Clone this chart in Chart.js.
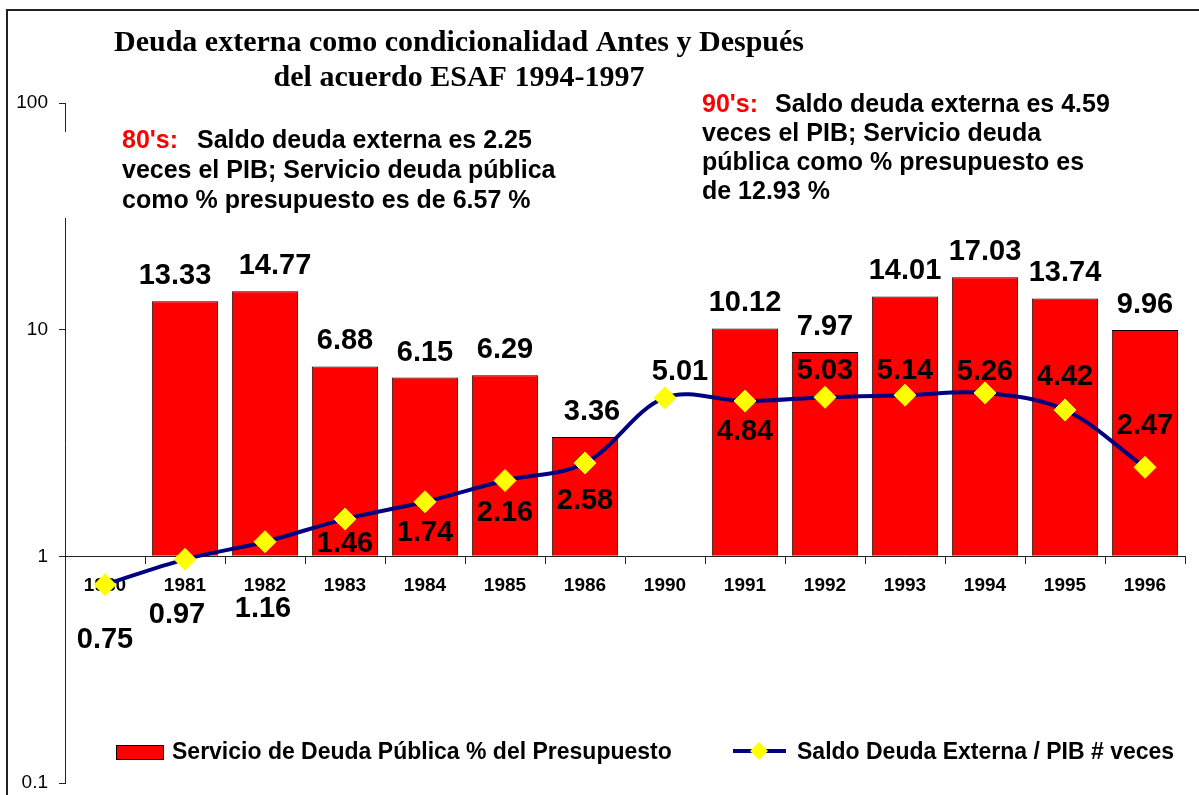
<!DOCTYPE html>
<html lang="es">
<head>
<meta charset="utf-8">
<title>Deuda externa como condicionalidad</title>
<script src="https://cdn.jsdelivr.net/npm/chart.js@4/dist/chart.umd.min.js"></script>
<style>
    html, body { margin: 0; padding: 0; background: #fff; }
    #chart { display: block; }
</style>
</head>
<body>
<canvas id="chart" width="1199" height="795"></canvas>
<script>
// Data
const years = ['1980', '1981', '1982', '1983', '1984', '1985', '1986', '1990', '1991', '1992', '1993', '1994', '1995', '1996'];
const servicioDeuda = [null, 13.33, 14.77, 6.88, 6.15, 6.29, 3.36, null, 10.12, 7.97, 14.01, 17.03, 13.74, 9.96];
const saldoPib = [0.75, 0.97, 1.16, 1.46, 1.74, 2.16, 2.58, 5.01, 4.84, 5.03, 5.14, 5.26, 4.42, 2.47];
const yTicks = [0.1, 1, 10, 100];

// label nudges (pixels) so they sit like the original
const barLabelDx = [0, -10, 10, 0, 0, 0, 7, 0, 0, 0, 0, 0, 0, 0];
const lineLabelShift = [[0, 55], [-8, 56], [-2, 67], [0, 25], [0, 31], [0, 32], [0, 38],
    [15, -26], [0, 31], [0, -26], [0, -24], [0, -21], [0, -33], [0, -41]];

const SANS = '"Liberation Sans", Arial, sans-serif';
const SERIF = '"Liberation Serif", "Times New Roman", serif';

// Value labels over bars and points
const valueLabels = {
    id: 'valueLabels',
    afterDatasetsDraw(chart) {
        const ctx = chart.ctx;
        ctx.save();
        ctx.font = 'bold 29px ' + SANS;
        ctx.fillStyle = '#000';
        ctx.textAlign = 'center';
        ctx.textBaseline = 'middle';
        // dataset 1 = bars, dataset 0 = line
        chart.getDatasetMeta(1).data.forEach((bar, i) => {
            const v = servicioDeuda[i];
            if (v == null) return;
            ctx.fillText(v.toFixed(2), bar.x + barLabelDx[i], bar.y - 25);
        });
        chart.getDatasetMeta(0).data.forEach((pt, i) => {
            const [dx, dy] = lineLabelShift[i];
            ctx.fillText(saldoPib[i].toFixed(2), pt.x + dx, pt.y + dy);
        });
        ctx.restore();
    }
};

// Title, notes, legend and frame
const notes = {
    id: 'notes',
    afterDraw(chart) {
        const ctx = chart.ctx;
        ctx.save();

        // frame
        ctx.strokeStyle = '#222';
        ctx.lineWidth = 2;
        ctx.beginPath();
        ctx.moveTo(7, 795);
        ctx.lineTo(7, 10);
        ctx.lineTo(1199, 10);
        ctx.stroke();

        // title
        ctx.fillStyle = '#000';
        ctx.textAlign = 'center';
        ctx.textBaseline = 'middle';
        ctx.font = 'bold 30px ' + SERIF;
        ctx.fillText('Deuda externa como condicionalidad Antes y Después', 459, 43);
        ctx.fillText('del acuerdo ESAF 1994-1997', 459, 78);

        // 80's box (white background hides part of the axis, as in the original)
        ctx.fillStyle = '#fff';
        ctx.fillRect(58, 132, 500, 86);

        ctx.textAlign = 'left';
        ctx.textBaseline = 'alphabetic';
        ctx.font = 'bold 25px ' + SANS;
        ctx.fillStyle = '#FF0000';
        ctx.fillText("80's:", 122, 148);
        ctx.fillStyle = '#000';
        ctx.fillText('Saldo deuda externa es 2.25', 197, 148);
        ctx.fillText('veces el PIB; Servicio deuda pública', 122, 178);
        ctx.fillText('como % presupuesto es de 6.57 %', 122, 208);

        ctx.fillStyle = '#FF0000';
        ctx.fillText("90's:", 702, 112);
        ctx.fillStyle = '#000';
        ctx.fillText('Saldo deuda externa es 4.59', 775, 112);
        ctx.fillText('veces el PIB; Servicio deuda', 702, 141);
        ctx.fillText('pública como % presupuesto es', 702, 170);
        ctx.fillText('de 12.93 %', 702, 199);

        // legend
        ctx.fillStyle = '#FF0000';
        ctx.fillRect(116, 745, 47, 14);
        ctx.strokeStyle = '#000';
        ctx.lineWidth = 1;
        ctx.strokeRect(116.5, 745.5, 47, 14);

        ctx.strokeStyle = '#000080';
        ctx.lineWidth = 4;
        ctx.beginPath();
        ctx.moveTo(733, 751);
        ctx.lineTo(786, 751);
        ctx.stroke();
        ctx.fillStyle = '#FFFF00';
        ctx.beginPath();
        ctx.moveTo(759, 742);
        ctx.lineTo(768, 751);
        ctx.lineTo(759, 760);
        ctx.lineTo(750, 751);
        ctx.closePath();
        ctx.fill();

        ctx.fillStyle = '#000';
        ctx.textBaseline = 'middle';
        ctx.font = 'bold 23px ' + SANS;
        ctx.fillText('Servicio de Deuda Pública % del Presupuesto', 172, 753);
        ctx.fillText('Saldo Deuda Externa / PIB # veces', 797, 753);

        ctx.restore();
    }
};

const ctx = document.getElementById('chart');
new Chart(ctx, {
    data: {
        labels: years,
        datasets: [
            {
                type: 'line',
                label: 'Saldo Deuda Externa / PIB # veces',
                data: saldoPib,
                borderColor: '#000080',
                borderWidth: 4,
                tension: 0.35,
                pointStyle: 'rectRot',
                pointRadius: 11,
                pointBackgroundColor: '#FFFF00',
                pointBorderColor: '#FFFF00',
                pointBorderWidth: 1,
                order: 0
            },
            {
                type: 'bar',
                label: 'Servicio de Deuda Pública % del Presupuesto',
                data: servicioDeuda,
                base: 1,
                backgroundColor: '#FF0000',
                borderColor: '#000',
                borderWidth: 1,
                barPercentage: 0.83,
                categoryPercentage: 1,
                order: 1
            }
        ]
    },
    options: {
        responsive: false,
        animation: false,
        devicePixelRatio: 1,
        layout: {
            padding: { left: 0, right: 14, top: 103, bottom: 11 }
        },
        plugins: {
            legend: { display: false },
            tooltip: { enabled: false },
            title: { display: false }
        },
        scales: {
            x: {
                type: 'category',
                position: { y: 1 },
                z: 1,
                afterFit: (scale) => { scale.height = 0; },
                grid: { drawOnChartArea: false, drawTicks: true, tickLength: 7, color: '#222', offset: true },
                border: { color: '#222', width: 1 },
                ticks: {
                    color: '#000',
                    padding: 11,
                    maxRotation: 0,
                    font: { family: SANS, size: 19, weight: 'bold' }
                }
            },
            y: {
                type: 'logarithmic',
                min: 0.1,
                max: 100,
                afterFit: (scale) => {
                    scale.width = 65;
                    // label padding should not shrink the plot
                    scale.paddingTop = 0;
                    scale.paddingBottom = 0;
                },
                afterBuildTicks: (scale) => {
                    scale.ticks = yTicks.map(v => ({ value: v }));
                },
                grid: { drawOnChartArea: false, drawTicks: true, tickLength: 6, color: '#222' },
                border: { color: '#222', width: 1 },
                ticks: {
                    color: '#000',
                    padding: 11,
                    font: { family: SANS, size: 19 },
                    callback: (v) => String(v)
                }
            }
        }
    },
    plugins: [valueLabels, notes]
});
</script>
</body>
</html>
